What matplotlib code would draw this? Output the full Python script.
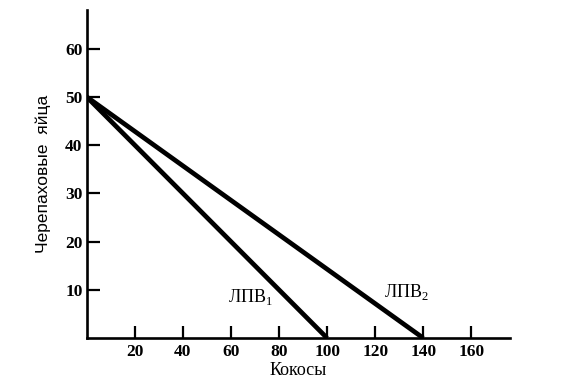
import matplotlib
matplotlib.use("Agg")
import matplotlib.pyplot as plt

# Data
x_ticks = [20, 40, 60, 80, 100, 120, 140, 160]
y_ticks = [10, 20, 30, 40, 50, 60]
line1_x = [0, 100]
line1_y = [50, 0]
line2_x = [0, 140]
line2_y = [50, 0]
labels = ["ЛПВ$_1$", "ЛПВ$_2$"]
label_pos = [(68, 8.5), (133, 9.5)]

plt.rcParams['mathtext.fontset'] = 'custom'
plt.rcParams['mathtext.rm'] = 'Liberation Serif'

fig = plt.figure(figsize=(5.67, 3.89), dpi=100)
ax = fig.add_axes([0.153, 0.131, 0.746, 0.843])

ax.plot(line1_x, line1_y, color='black', lw=3.4, solid_capstyle='butt')
ax.plot(line2_x, line2_y, color='black', lw=3.4, solid_capstyle='butt')

for lab, (lx, ly) in zip(labels, label_pos):
    ax.text(lx, ly, lab, ha='center', va='center', fontsize=13,
            family='Liberation Serif')

ax.set_xlim(0, 176)
ax.set_ylim(0, 68)
ax.set_xticks(x_ticks)
ax.set_yticks(y_ticks)
ax.set_xticklabels([str(v) for v in x_ticks], family='Liberation Serif',
                   fontsize=12.5, fontweight='bold')
ax.set_yticklabels([str(v) for v in y_ticks], family='Liberation Serif',
                   fontsize=12.5, fontweight='bold')
ax.tick_params(axis='both', direction='in', length=9, width=1.6, pad=4)
ax.tick_params(axis='y', pad=3)

for s in ['top', 'right']:
    ax.spines[s].set_visible(False)
for s in ['left', 'bottom']:
    ax.spines[s].set_linewidth(1.9)

ax.set_xlabel("Кокосы", family='Liberation Serif', fontsize=13, labelpad=2)
ax.set_ylabel("Черепаховые  яйца", family='Liberation Sans', fontsize=12.5,
              labelpad=10)

fig.savefig("out.png", dpi=100)
